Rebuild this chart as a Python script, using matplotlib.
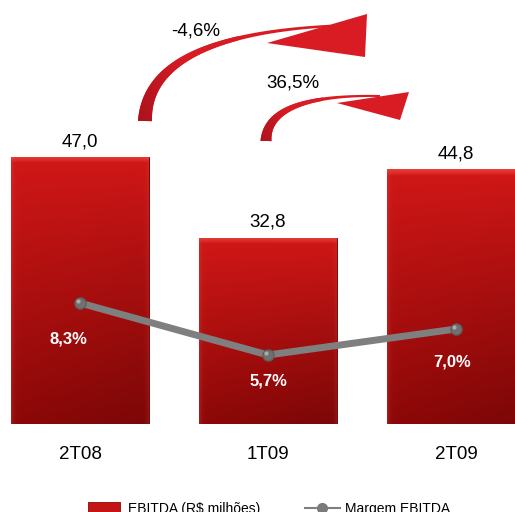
import numpy as np
import matplotlib
matplotlib.use("Agg")
import matplotlib.pyplot as plt
from matplotlib.patches import Polygon, Rectangle
from matplotlib.lines import Line2D

plt.rcParams['font.family'] = ['Liberation Sans', 'DejaVu Sans']

quarters = ["2T08", "1T09", "2T09"]
ebitda = [47.0, 32.8, 44.8]
margem = [8.3, 5.7, 7.0]
var_labels = ["-4,6%", "36,5%"]

def br(v, pct=False):
    s = f"{v:.1f}".replace(".", ",")
    return s + "%" if pct else s

W, H = 515, 512
fig = plt.figure(figsize=(W / 100, H / 100), dpi=100)
fig.patch.set_facecolor("white")

# main axes: spans full width, bottom at the bar base
bottom_px = 424
ax = fig.add_axes([0, (H - bottom_px) / H, 1, bottom_px / H])
px_unit = 267 / 47.0
ylim = (0, bottom_px / px_unit)
xlim = ((0 - 80) / 188, (W - 80) / 188)
for s in ax.spines.values():
    s.set_visible(False)
ax.set_yticks([])
ax.set_xticks(range(len(quarters)))
ax.set_xticklabels(quarters, fontsize=13.5)
ax.tick_params(axis="x", length=0, pad=16)

x = np.arange(len(quarters))
bars = ax.bar(x, ebitda, width=0.73, color="#c41414", edgecolor="#7a0a0a",
              linewidth=0.7, zorder=2)

# shaded fill for each bar, lighter bevel along the top
top = np.array([0.82, 0.09, 0.09])
bot = np.array([0.55, 0.03, 0.03])
bevel = np.array([0.90, 0.24, 0.22])
for b in bars:
    x0, w, h = b.get_x(), b.get_width(), b.get_height()
    rows, cols = 400, 80
    yy = np.linspace(0, 1, rows)
    t = yy[:, None, None]
    u = np.linspace(0, 1, cols)[None, :, None]
    img = top * (1 - t) + bot * t
    img = img * (1 - 0.12 * u * t)
    # bevel band, about 6 px tall, fading down
    bev = (6 / px_unit) / h
    k = np.clip(1 - yy / bev, 0, 1)[:, None, None] ** 0.7
    img = img * (1 - k) + bevel * k
    # thin light rim at the sides
    side = np.exp(-((u * w * 188) / 2.0)) * 0.25 + np.exp(-(((1 - u) * w * 188) / 2.0)) * 0.15
    img = img * (1 - side) + np.array([0.9, 0.3, 0.3]) * side
    im = ax.imshow(np.clip(img, 0, 1), extent=[x0, x0 + w, 0, h],
                   aspect="auto", origin="upper", zorder=2.1)
    im.set_clip_path(b)
    ax.text(x0 + w / 2, h + 1.2, br(h), ha="center", va="bottom",
            fontsize=13.5, color="black")

ax.set_ylim(*ylim)
ax.set_xlim(*xlim)

# margin line on twin axis
ax2 = ax.twinx()
ax2.set_ylim((469 - bottom_px) / 20, 469 / 20)
ax2.set_xlim(xlim)
ax2.axis("off")
ax2.plot(x, margem, color="#7f7f7f", linewidth=5, zorder=3,
         solid_capstyle="round")
ax2.plot(x, margem, "o", color="#707070", markersize=8,
         markeredgecolor="#5e5e5e", zorder=4)
ax2.plot(x - 0.008, np.array(margem) + 0.08, "o", color="#ababab",
         markersize=3, markeredgewidth=0, zorder=5)
offs = [(-0.06, -1.8), (0.0, -1.3), (-0.02, -1.65)]
for xi, m, (dx, dy) in zip(x, margem, offs):
    ax2.text(xi + dx, m + dy, br(m, True), ha="center", va="center",
             fontsize=12, fontweight="bold", color="white", zorder=5)

# overlay for the growth arrows and legend
ov = fig.add_axes([0, 0, 1, 1], zorder=10)
ov.set_xlim(0, W)
ov.set_ylim(H, 0)
ov.axis("off")
ov.patch.set_alpha(0)

dark = np.array([0.66, 0.07, 0.11])
bright = np.array([0.85, 0.11, 0.14])

def curved_arrow(p0, p1, p2, w0, w1, head):
    t = np.linspace(0, 1, 120)[:, None]
    p0, p1, p2 = map(np.array, (p0, p1, p2))
    c = (1 - t) ** 2 * p0 + 2 * (1 - t) * t * p1 + t ** 2 * p2
    d = 2 * (1 - t) * (p1 - p0) + 2 * t * (p2 - p1)
    n = np.column_stack([-d[:, 1], d[:, 0]])
    n /= np.linalg.norm(n, axis=1)[:, None]
    w = (w1 + (w0 - w1) * (1 - t) ** 1.6) / 2
    a = c + n * w
    b = c - n * w
    shaft = Polygon(np.vstack([a, b[::-1]]), closed=True,
                    facecolor=bright, edgecolor="none")
    ov.add_patch(shaft)
    # darker toward the base of the shaft
    xs0, xs1 = p0[0] - 10, p0[0] + 0.5 * (p2[0] - p0[0])
    ys0, ys1 = p2[1] - 10, p0[1] + 5
    g = np.linspace(0, 1, 100)[None, :, None]
    gv = np.linspace(0, 1, 100)[:, None, None]
    f = np.clip(g * 1.3 + (1 - gv) * 0.6, 0, 1)
    img = dark * (1 - f) + bright * f
    im = ov.imshow(img, extent=[xs0, xs1, ys1, ys0], aspect="auto",
                   origin="upper", zorder=2)
    im.set_clip_path(shaft)
    ov.add_patch(Polygon(head, closed=True, facecolor=bright,
                         edgecolor="none", zorder=3))

curved_arrow((145, 121), (147, 36), (330, 26), 14, 2.5,
             [(267, 43), (367, 14), (365, 57)])
curved_arrow((266, 141), (267, 94), (380, 96), 11, 2,
             [(337, 103), (409, 92), (400, 120)])
ov.set_xlim(0, W)
ov.set_ylim(H, 0)
ov.text(196, 31, var_labels[0], ha="center", va="center", fontsize=13.5)
ov.text(293, 83, var_labels[1], ha="center", va="center", fontsize=13.5)

# legend
ov.add_patch(Rectangle((88, 502), 32, 12, facecolor="#c41414",
                       edgecolor="#8a0a0a", linewidth=0.6))
ov.text(128, 509, "EBITDA (R$ milhões)", ha="left", va="center", fontsize=10)
ov.add_line(Line2D([305, 340], [508, 508], color="#7f7f7f", linewidth=1.5))
ov.plot([322], [508], "o", color="#7a7a7a", markersize=7)
ov.text(345, 509, "Margem EBITDA", ha="left", va="center", fontsize=10)

fig.savefig("out.png", dpi=100, facecolor="white")
